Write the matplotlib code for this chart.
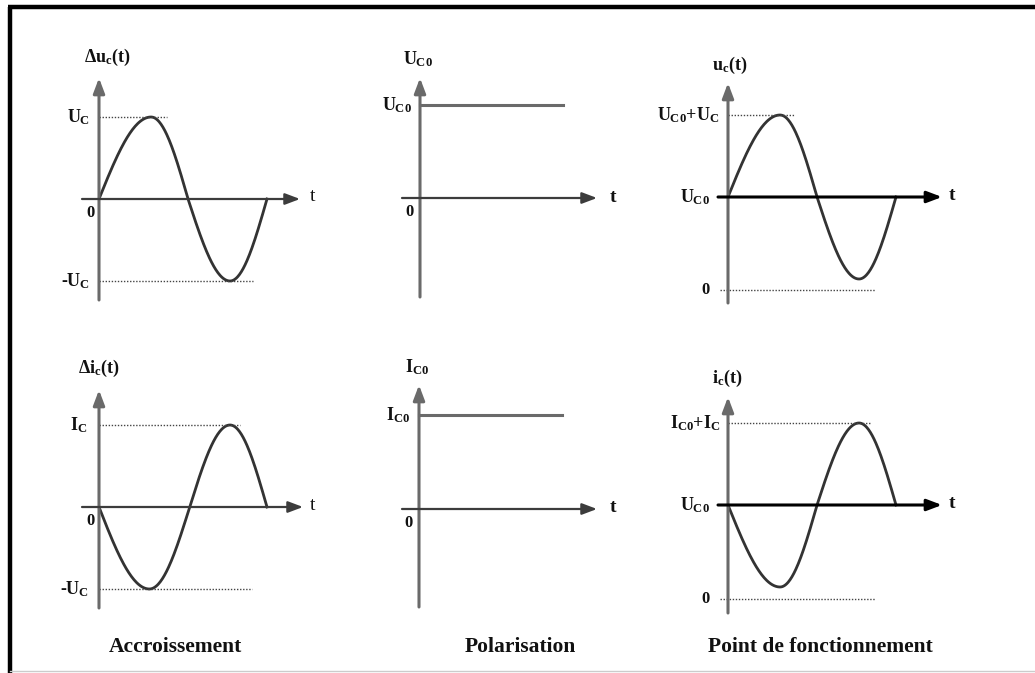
import numpy as np
import matplotlib
matplotlib.use('Agg')
import matplotlib.pyplot as plt
from matplotlib.lines import Line2D

plt.rcParams['font.family'] = ['Liberation Serif', 'DejaVu Serif']
plt.rcParams['font.weight'] = 'bold'
plt.rcParams['mathtext.fontset'] = 'custom'
plt.rcParams['mathtext.rm'] = 'Liberation Serif:bold'
plt.rcParams['mathtext.it'] = 'Liberation Serif:bold'
plt.rcParams['mathtext.bf'] = 'Liberation Serif:bold'

W, H = 1035, 673
SX, SY = 168.0, 82.0   # px per period, px per unit amplitude

# small-signal waves: knot times (fraction of period) and values at the knots
t_du = [0.0, 0.31, 0.53, 0.78, 1.0]
v_du = [0.0, 1.0, 0.0, -1.0, 0.0]
t_di = [0.0, 0.30, 0.54, 0.78, 1.0]
v_di = [0.0, -1.0, 0.0, 1.0, 0.0]

# bias point
U_C0 = 1.13
I_C0 = 1.15
U_C = 1.0
I_C = 1.0
T_BIAS = 0.85      # length of the constant bias line

captions = ['Accroissement', 'Polarisation', 'Point de fonctionnement']


def wave(tk, vk, n=60):
    # quarter-sine arcs between the knots
    ts, vs = [], []
    for k in range(len(tk) - 1):
        s = np.linspace(0, 1, n)
        if vk[k] == 0:
            v = vk[k + 1] * np.sin(np.pi / 2 * s)
        else:
            v = vk[k] * np.cos(np.pi / 2 * s)
        ts.append(tk[k] + (tk[k + 1] - tk[k]) * s)
        vs.append(v)
    return np.concatenate(ts), np.concatenate(vs)


fig = plt.figure(figsize=(W / 100, H / 100), dpi=100)


def panel(ox, oy, base=0.0):
    # ox, oy: pixel position of the point (t=0, value=base)
    oy0 = oy + base * SY
    L, R, T, B = ox - 80, ox + 240, oy0 - 360, oy0 + 80
    ax = fig.add_axes([L / W, 1 - B / H, (R - L) / W, (B - T) / H])
    ax.set_xlim((L - ox) / SX, (R - ox) / SX)
    ax.set_ylim((oy0 - B) / SY, (oy0 - T) / SY)
    ax.axis('off')
    return ax


def draw_axes(ax, base, xl, xr, yb, yt, xcol='#3c3c3c', xlw=1.6):
    # extents given in px relative to the axes crossing
    head = dict(arrowstyle='-|>,head_length=0.45,head_width=0.17', mutation_scale=20,
                shrinkA=0, shrinkB=0)
    ax.annotate('', xy=(0, base + yt / SY), xytext=(0, base - yb / SY),
                arrowprops=dict(lw=2.2, color='#6a6a6a', **head), annotation_clip=False)
    ax.annotate('', xy=(xr / SX, base), xytext=(-xl / SX, base),
                arrowprops=dict(lw=xlw, color=xcol, **head), annotation_clip=False)


def txt(ax, x, y, s, ha='left', size=13, weight='bold'):
    ax.text(x / SX, y, s, ha=ha, va='center', fontsize=size, fontweight=weight,
            color='#111111', clip_on=False)


dot = dict(ls=(0, (1, 1.2)), lw=1.0, color='#444444', clip_on=False)
curve = dict(lw=2.0, color='#333333', clip_on=False)

# --- top left: increment of the voltage
ax = panel(99, 199)
draw_axes(ax, 0, 17, 201, 101, 121)
t, v = wave(t_du, v_du)
ax.plot(t, U_C * v, **curve)
ax.plot([0, 68 / SX], [U_C, U_C], **dot)
ax.plot([0, 154 / SX], [-U_C, -U_C], **dot)
txt(ax, -15, 142 / SY, r'$\Delta u_c(t)$')
txt(ax, -9, U_C, r'$U_C$', ha='right')
txt(ax, -9, -U_C, r'-$U_C$', ha='right')
txt(ax, -4, -14 / SY, '0', ha='right', size=12)
txt(ax, 214, 3 / SY, 't', ha='center', weight='normal', size=14)

# --- top middle: bias voltage
ax = panel(420, 198)
draw_axes(ax, 0, 18, 177, 99, 120)
ax.plot([0, T_BIAS], [U_C0, U_C0], lw=2.2, color='#6a6a6a', clip_on=False)
txt(ax, -17, 139 / SY, r'$U_{C0}$')
txt(ax, -8, U_C0, r'$U_{C0}$', ha='right')
txt(ax, -6, -14 / SY, '0', ha='right', size=12)
txt(ax, 193, 1 / SY, 't', ha='center', size=14)

# --- top right: total voltage
ax = panel(728, 197, U_C0)
draw_axes(ax, U_C0, 10, 214, 106, 114, xcol='#000000', xlw=2.2)
t, v = wave(t_du, v_du)
ax.plot(t, U_C0 + U_C * v, **curve)
ax.plot([0, 67 / SX], [U_C0 + U_C, U_C0 + U_C], **dot)
ax.plot([-8 / SX, 147 / SX], [0, 0], **dot)
txt(ax, -16, U_C0 + 132 / SY, r'$u_c(t)$')
txt(ax, -9, U_C0 + U_C, r'$U_{C0}$+$U_C$', ha='right')
txt(ax, -18, U_C0, r'$U_{C0}$', ha='right')
txt(ax, -18, 0, '0', ha='right', size=12)
txt(ax, 224, U_C0 + 1 / SY, 't', ha='center', size=14)

# --- bottom left: increment of the current
ax = panel(99, 507)
draw_axes(ax, 0, 17, 204, 101, 117)
t, v = wave(t_di, v_di)
ax.plot(t, I_C * v, **curve)
ax.plot([0, 141 / SX], [I_C, I_C], **dot)
ax.plot([0, 153 / SX], [-U_C, -U_C], **dot)
txt(ax, -21, 139 / SY, r'$\Delta i_c(t)$')
txt(ax, -12, I_C, r'$I_C$', ha='right')
txt(ax, -10, -U_C, r'-$U_C$', ha='right')
txt(ax, -4, -14 / SY, '0', ha='right', size=12)
txt(ax, 214, 1 / SY, 't', ha='center', weight='normal', size=14)

# --- bottom middle: bias current
ax = panel(419, 509)
draw_axes(ax, 0, 17, 178, 98, 124)
ax.plot([0, T_BIAS], [I_C0, I_C0], lw=2.2, color='#6a6a6a', clip_on=False)
txt(ax, -14, 142 / SY, r'$I_{C0}$')
txt(ax, -9, I_C0, r'$I_{C0}$', ha='right')
txt(ax, -6, -14 / SY, '0', ha='right', size=12)
txt(ax, 194, 1 / SY, 't', ha='center', size=14)

# --- bottom right: total current
ax = panel(728, 505, I_C0)
draw_axes(ax, I_C0, 10, 214, 108, 108, xcol='#000000', xlw=2.2)
t, v = wave(t_du, v_di)
ax.plot(t, I_C0 + I_C * v, **curve)
ax.plot([0, 142 / SX], [I_C0 + I_C, I_C0 + I_C], **dot)
ax.plot([-8 / SX, 147 / SX], [0, 0], **dot)
txt(ax, -16, I_C0 + 127 / SY, r'$i_c(t)$')
txt(ax, -8, I_C0 + I_C, r'$I_{C0}$+$I_C$', ha='right')
txt(ax, -18, I_C0, r'$U_{C0}$', ha='right')
txt(ax, -18, 0, '0', ha='right', size=12)
txt(ax, 224, I_C0 + 1 / SY, 't', ha='center', size=14)

# captions under each column
for cx, s in zip([175, 520, 820], captions):
    fig.text(cx / W, 1 - 647 / H, s, ha='center', va='center', fontsize=15.5,
             fontweight='bold', color='#111111')

# page frame
fig.add_artist(Line2D([8 / W, 1], [1 - 7 / H, 1 - 7 / H], lw=3.2, color='black',
                      solid_capstyle='butt'))
fig.add_artist(Line2D([10 / W, 10 / W], [0, 1 - 7 / H], lw=3.2, color='black',
                      solid_capstyle='butt'))
fig.add_artist(Line2D([10 / W, 1], [1 - 671 / H, 1 - 671 / H], lw=1.0, color='#cccccc'))

fig.savefig('out.png', dpi=100)
